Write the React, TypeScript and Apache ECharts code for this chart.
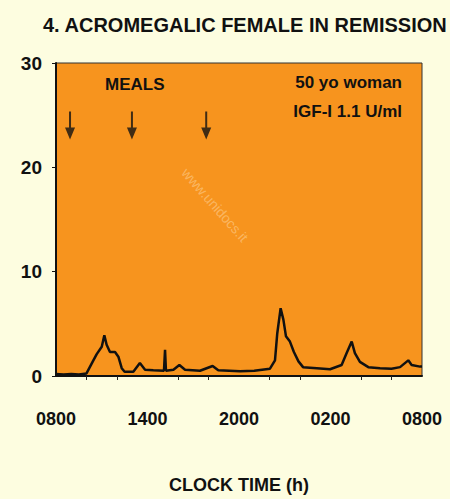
import React, { useEffect, useRef } from "react";
import * as echarts from "echarts";

const hours = [0, 0.5, 1, 1.5, 2, 2.45, 2.67, 3.0, 3.17, 3.32, 3.54, 3.87, 4.09, 4.31, 4.5, 5.07, 5.5, 5.84, 6.38, 7.08, 7.15, 7.21, 7.7, 8.09, 8.46, 9.44, 10.27, 10.64, 12.07, 13.0, 14.03, 14.36, 14.51, 14.73, 14.91, 15.08, 15.34, 15.6, 15.9, 16.2, 17.1, 17.97, 18.73, 19.06, 19.39, 19.6, 19.93, 20.48, 21.25, 22.0, 22.56, 23.1, 23.32, 23.87, 24];
const gh = [0.2, 0.15, 0.2, 0.15, 0.25, 1.5, 2.1, 2.8, 3.9, 3.0, 2.3, 2.3, 1.85, 0.75, 0.4, 0.4, 1.25, 0.6, 0.55, 0.5, 2.5, 0.5, 0.6, 1.05, 0.6, 0.5, 0.96, 0.55, 0.45, 0.5, 0.7, 1.5, 4.1, 6.5, 5.4, 3.8, 3.3, 2.3, 1.4, 0.85, 0.75, 0.65, 1.05, 2.2, 3.3, 2.2, 1.35, 0.85, 0.75, 0.7, 0.85, 1.5, 1.05, 0.9, 0.9];
const mealHours = [0.92, 4.98, 9.85];
const mealLevel = 24;
const xTickLabels = ["0800", "1400", "2000", "0200", "0800"];
const yTicks = [0, 10, 20, 30];

export default function App() {
  const ref = useRef<HTMLDivElement>(null);
  useEffect(() => {
    if (!ref.current) return;
    const chart = echarts.init(ref.current, null, { renderer: "svg" });
    const font = "'Liberation Sans', Arial, sans-serif";
    chart.setOption({
      animation: false,
      backgroundColor: "#FDFDE0",
      title: {
        text: "4. ACROMEGALIC FEMALE IN REMISSION",
        left: 38,
        top: 10,
        textStyle: { fontFamily: font, fontWeight: "bold", fontSize: 20, color: "#111" },
      },
      grid: {
        left: 56,
        right: 28,
        top: 63,
        bottom: 123,
        show: true,
        backgroundColor: "#F7941E",
        borderColor: "#333",
        borderWidth: 1,
      },
      xAxis: {
        type: "value",
        min: 0,
        max: 24,
        interval: 6,
        name: "CLOCK TIME (h)",
        nameLocation: "middle",
        nameGap: 100,
        nameTextStyle: { fontFamily: font, fontWeight: "bold", fontSize: 18, color: "#111" },
        axisLine: { show: true, lineStyle: { color: "#111", width: 2 } },
        axisTick: { show: false },
        minorTick: { show: true, splitNumber: 3, length: 4, lineStyle: { color: "#222", width: 1 } },
        splitLine: { show: false },
        axisLabel: {
          margin: 34,
          fontFamily: font,
          fontWeight: "bold",
          fontSize: 18,
          color: "#111",
          formatter: (v: number) => xTickLabels[Math.round(v / 6)] ?? "",
        },
      },
      yAxis: {
        type: "value",
        min: yTicks[0],
        max: yTicks[yTicks.length - 1],
        interval: 10,
        axisLine: { show: true, lineStyle: { color: "#111", width: 2 } },
        axisTick: { show: true, length: 4, lineStyle: { color: "#111" } },
        splitLine: { show: false },
        axisLabel: { margin: 14, fontFamily: font, fontWeight: "bold", fontSize: 19, color: "#111" },
      },
      graphic: [
        {
          type: "text",
          left: 105,
          top: 76,
          style: { text: "MEALS", fontFamily: font, fontWeight: "bold", fontSize: 17, fill: "#111" },
        },
        {
          type: "text",
          right: 48,
          top: 74,
          style: { text: "50 yo woman", fontFamily: font, fontWeight: "bold", fontSize: 17, fill: "#111", textAlign: "right" },
        },
        {
          type: "text",
          right: 48,
          top: 103,
          style: { text: "IGF-I 1.1 U/ml", fontFamily: font, fontWeight: "bold", fontSize: 17, fill: "#111", textAlign: "right" },
        },
        {
          type: "text",
          x: 215,
          y: 205,
          rotation: -0.85,
          style: { text: "www.unidocs.it", fontFamily: font, fontSize: 14, fill: "rgba(255,235,200,0.4)", textAlign: "center", textVerticalAlign: "middle" },
        },
      ],
      series: [
        {
          type: "line",
          data: hours.map((h, i) => [h, gh[i]]),
          symbol: "none",
          smooth: false,
          lineStyle: { color: "#111", width: 2.5 },
          z: 3,
        },
        {
          type: "scatter",
          data: mealHours.map((h) => [h, mealLevel]),
          symbol: "path://M4,0 L6,0 L6,16 L10,16 L5,28 L0,16 L4,16 Z",
          symbolSize: [10, 28],
          itemStyle: { color: "#111" },
          z: 4,
        },
      ],
    });
    return () => chart.dispose();
  }, []);
  return <div ref={ref} style={{ position: "absolute", left: 0, top: 0, width: 450, height: 499 }} />;
}
